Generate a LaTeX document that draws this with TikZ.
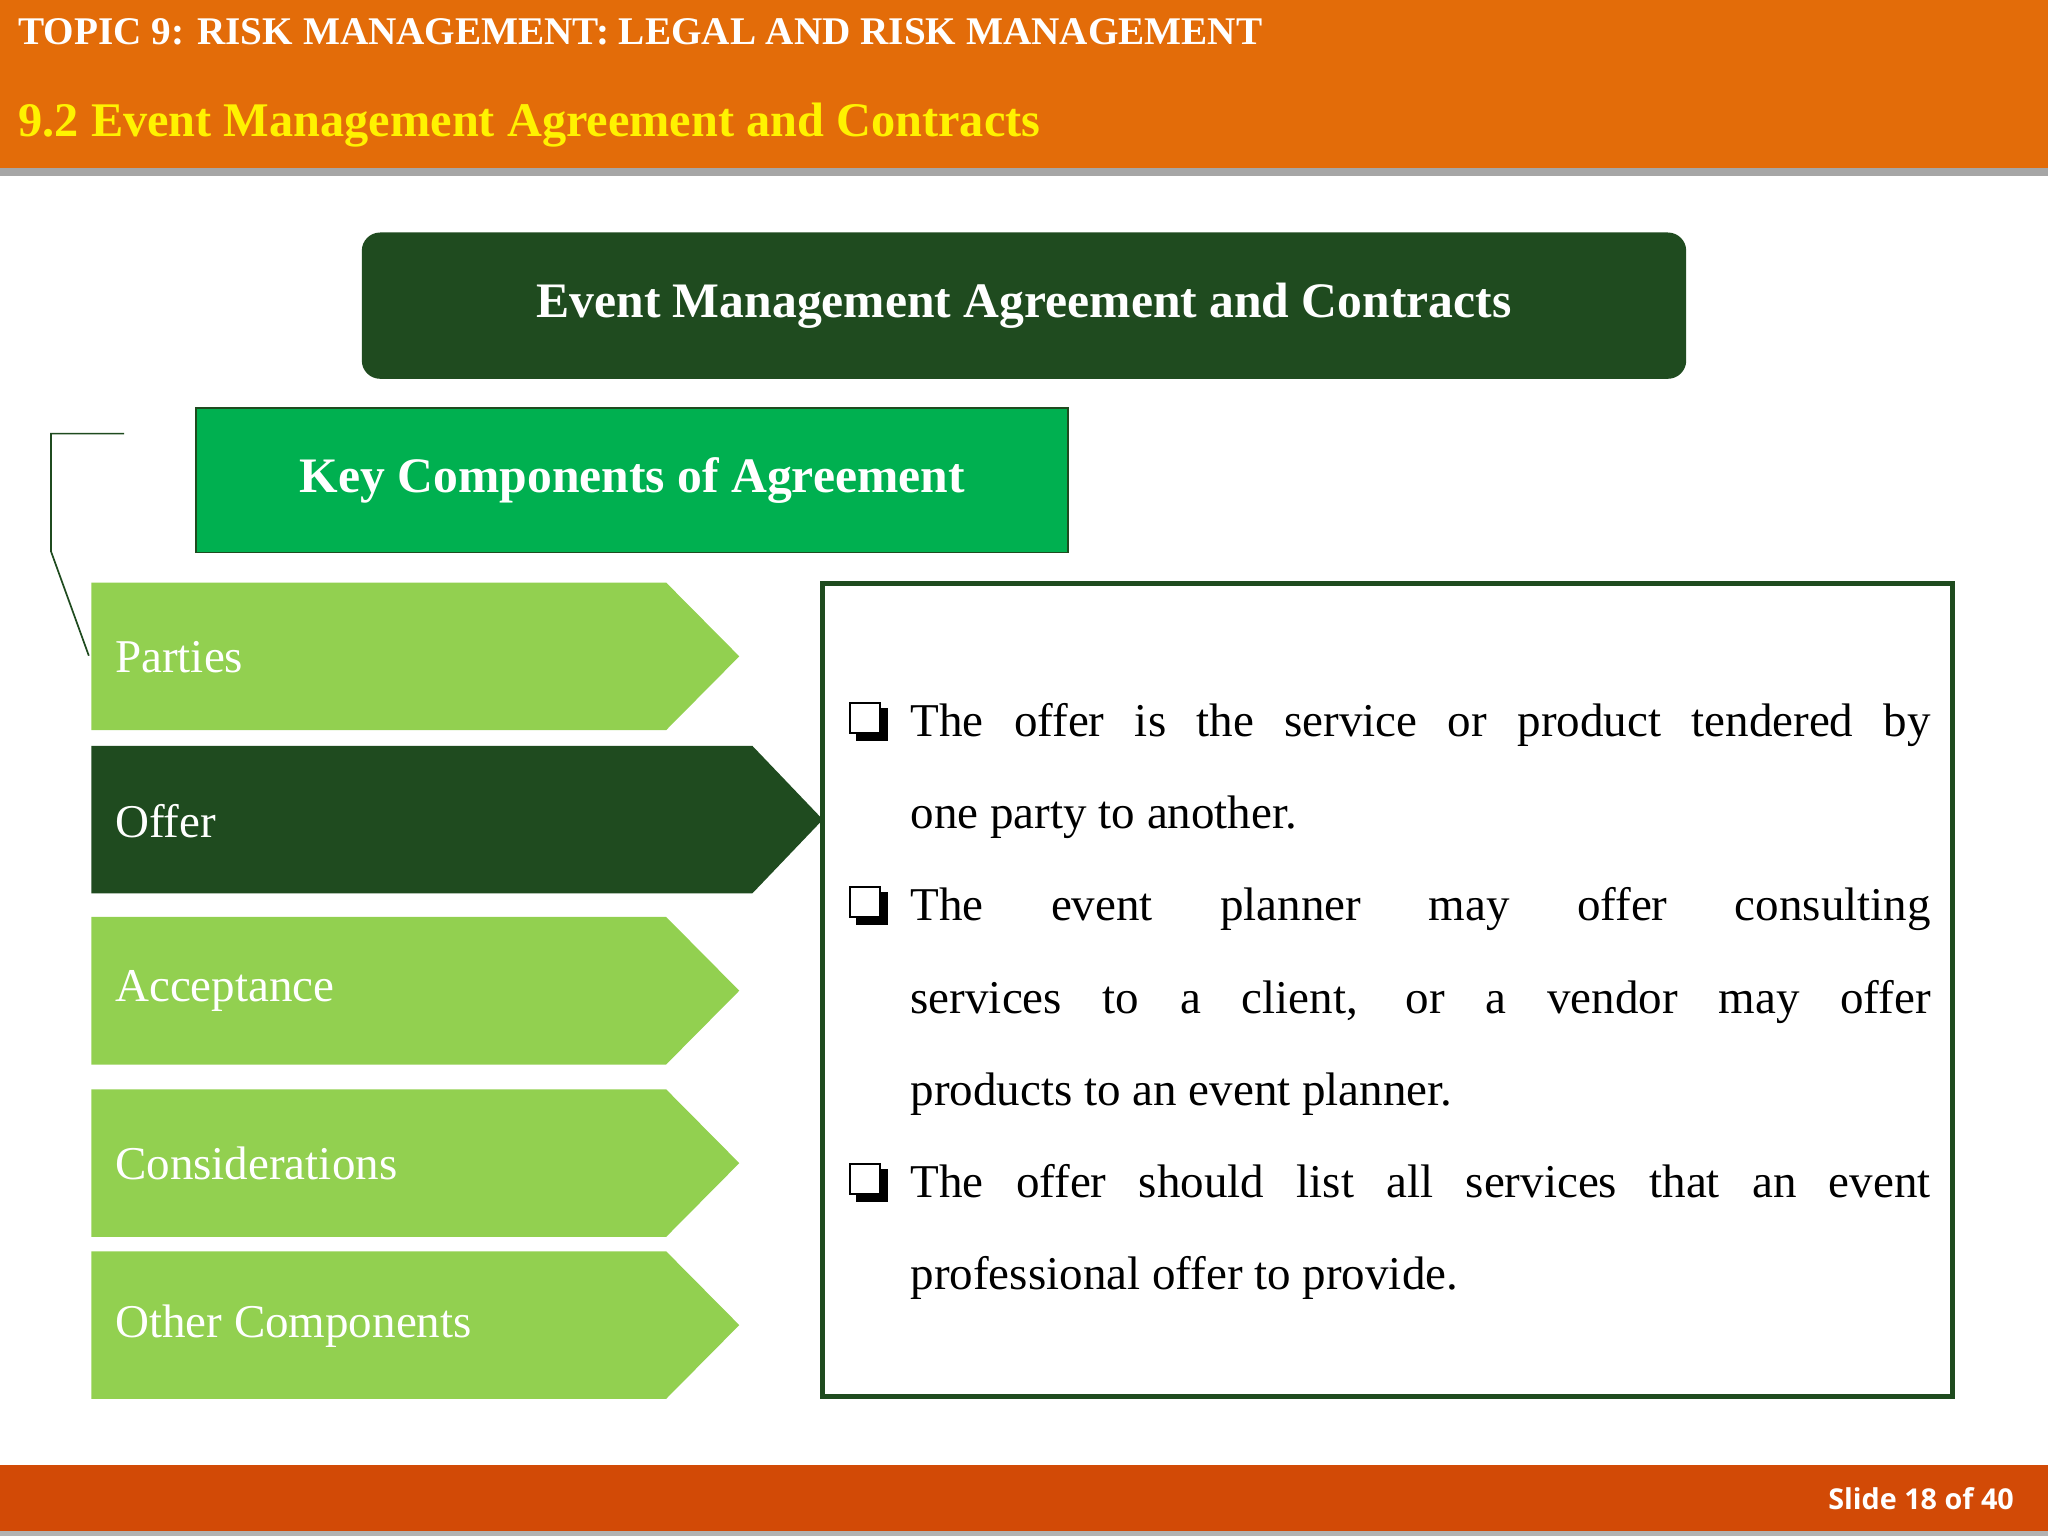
\documentclass[tikz,border=0pt]{standalone}
\usepackage{fontspec}
\setmainfont{Liberation Serif}
\newfontfamily\slidefont{Open Sans}
\begin{document}
\begin{tikzpicture}[x=1pt,y=-1pt,
  light/.style={fill=lgreen},
  dark/.style={fill=dgreen},
  lab/.style={anchor=west,text=white,font=\fontsize{36}{40}\selectfont,inner sep=0},
  body/.style={anchor=base west,inner sep=0,font=\fontsize{36}{40}\selectfont},
  bul/.style={draw=black,line width=1.6pt,fill=white}]
\definecolor{orng}{HTML}{E36C09}
\definecolor{dgreen}{HTML}{1F4B1F}
\definecolor{kgreen}{HTML}{00B050}
\definecolor{lgreen}{HTML}{92D050}
\definecolor{foot}{HTML}{D24A06}
\useasboundingbox (0,0) rectangle (1568,1176);
\fill[white] (0,0) rectangle (1568,1176);
\fill[orng] (0,0) rectangle (1568,129);
\fill[gray!70] (0,129) rectangle (1568,135);
\node[anchor=west,text=white,font=\bfseries\fontsize{30}{34}\selectfont,inner sep=0] (t1) at (14,24) {TOPIC 9: RISK MANAGEMENT: LEGAL AND RISK MANAGEMENT};
\node[anchor=west,text=yellow,font=\bfseries\fontsize{37}{40}\selectfont,inner sep=0] (t2) at (14,96) {9.2 Event Management Agreement and Contracts};
\node[fill=dgreen,rounded corners=14pt,minimum width=1014pt,minimum height=112pt,text=white,font=\bfseries\fontsize{38}{42}\selectfont] (main) at (784,234) {Event Management Agreement and Contracts};
\node[fill=kgreen,draw=dgreen,line width=1.5pt,minimum width=668pt,minimum height=111pt,text=white,font=\bfseries\fontsize{38}{42}\selectfont] (key) at (484,367.5) {Key Components of Agreement};
\coordinate (b1) at (95,332);
\coordinate (b4) at (68,502);
\draw[dgreen,line width=1.3pt] (b1) -- (39,332) -- (39,422) -- (b4);
% arrows
\foreach \yt/\nm in {446/Parties,702/Acceptance,834/Considerations,958/Other Components}{
  \fill[lgreen] (70,\yt) -- (510,\yt) -- (566,\yt+56.5) -- (510,\yt+113) -- (70,\yt+113) -- cycle;
  \node[lab] at (88,\yt+57) {\nm};
}
\fill[dgreen] (70,571) -- (576,571) -- (630,627.5) -- (576,684) -- (70,684) -- cycle;
\node[lab] (offer) at (88,629) {Offer};
% right box
\draw[dgreen,line width=4pt] (630,447) rectangle (1495,1069);
\foreach \yb in {550,691,903}{
  \fill[black] (655,\yb-8) rectangle (680,\yb+17);
  \draw[bul] (651,\yb-12) rectangle (674,\yb+11);
}
\node[body] (l1) at (697,564) {\makebox[781pt][s]{The offer is the service or product tendered by}};
\node[body] (l2) at (697,634) {one party to another.};
\node[body] (l3) at (697,705) {\makebox[781pt][s]{The event planner may offer consulting}};
\node[body] (l4) at (697,776) {\makebox[781pt][s]{services to a client, or a vendor may offer}};
\node[body] (l5) at (697,846) {products to an event planner.};
\node[body] (l6) at (697,917) {\makebox[781pt][s]{The offer should list all services that an event}};
\node[body] (l7) at (697,987) {professional offer to provide.};
% footer
\fill[foot] (0,1122) rectangle (1568,1176);
\fill[gray!60] (0,1172) rectangle (1568,1176);
\node[anchor=east,text=white,font=\slidefont\bfseries\fontsize{22}{24}\selectfont,inner sep=0] (sl) at (1542,1147) {Slide 18 of 40};
\end{tikzpicture}
\end{document}
